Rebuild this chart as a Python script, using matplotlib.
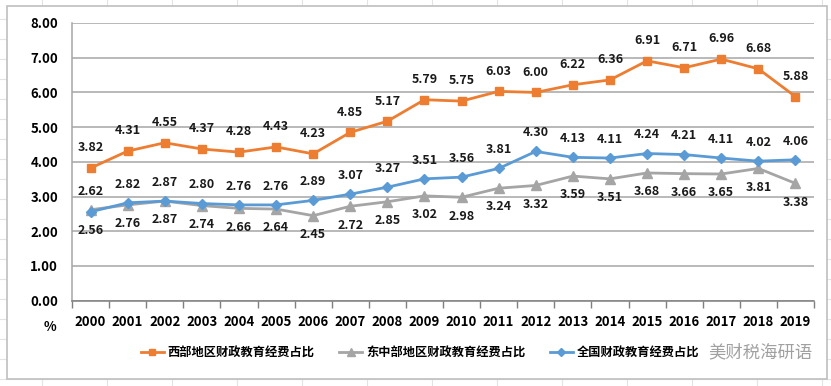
import matplotlib
matplotlib.use("Agg")
import matplotlib.pyplot as plt
from matplotlib.patches import Rectangle
from matplotlib.lines import Line2D
import numpy as np

years = ['2000', '2001', '2002', '2003', '2004', '2005', '2006', '2007', '2008', '2009',
         '2010', '2011', '2012', '2013', '2014', '2015', '2016', '2017', '2018', '2019']
west = [3.82, 4.31, 4.55, 4.37, 4.28, 4.43, 4.23, 4.85, 5.17, 5.79,
        5.75, 6.03, 6.00, 6.22, 6.36, 6.91, 6.71, 6.96, 6.68, 5.88]
east_central = [2.62, 2.76, 2.87, 2.74, 2.66, 2.64, 2.45, 2.72, 2.85, 3.02,
                2.98, 3.24, 3.32, 3.59, 3.51, 3.68, 3.66, 3.65, 3.81, 3.38]
national = [2.56, 2.82, 2.87, 2.80, 2.76, 2.76, 2.89, 3.07, 3.27, 3.51,
            3.56, 3.81, 4.30, 4.13, 4.11, 4.24, 4.21, 4.11, 4.02, 4.06]
series_names = ['西部地区财政教育经费占比', '东中部地区财政教育经费占比', '全国财政教育经费占比']
yticks = [0, 1, 2, 3, 4, 5, 6, 7, 8]
watermark = '美财税海研语'

font = 'Noto Sans CJK SC'
plt.rcParams['font.family'] = [font, 'DejaVu Sans']

W, H = 831, 386
fig = plt.figure(figsize=(W / 100, H / 100), dpi=100)
fig.patch.set_facecolor('white')

# spreadsheet grid behind chart
for xx in range(42, W, 65):
    fig.add_artist(Line2D([xx / W, xx / W], [0, 1], color='#E3E3E3', lw=0.8, zorder=0))
for yy in range(19, H, 20):
    fig.add_artist(Line2D([0, 1], [1 - yy / H, 1 - yy / H], color='#E3E3E3', lw=0.8, zorder=0))
# chart frame
fig.add_artist(Rectangle((7 / W, 1 - 379 / H), 820 / W, 373 / H, transform=fig.transFigure,
                         facecolor='white', edgecolor='#BFBFBF', lw=1.2, zorder=1))

ax = fig.add_axes([72 / W, 1 - 300.7 / H, 742 / W, 277.7 / H], zorder=2)
ax.set_facecolor('none')
x = np.arange(len(years))

c_or, c_gr, c_bl = '#ED7D31', '#A5A5A5', '#5B9BD5'
ax.plot(x, east_central, color=c_gr, lw=2.0, marker='^', ms=7, mec=c_gr, mfc=c_gr, zorder=3)
ax.plot(x, national, color=c_bl, lw=2.0, marker='D', ms=5, mec=c_bl, mfc=c_bl, zorder=4)
ax.plot(x, west, color=c_or, lw=2.0, marker='s', ms=6, mec=c_or, mfc=c_or, zorder=5)

lab_kw = dict(fontsize=9, fontweight='bold', color='#1a1a1a', ha='center', va='center', zorder=6)
for i in range(len(years)):
    ax.annotate(f'{west[i]:.2f}', (x[i], west[i]), xytext=(0, 14.5), textcoords='offset points', **lab_kw)
    hi = max(national[i], east_central[i])
    lo = min(national[i], east_central[i])
    ax.annotate(f'{hi:.2f}', (x[i], hi), xytext=(0, 13.5), textcoords='offset points', **lab_kw)
    ax.annotate(f'{lo:.2f}', (x[i], lo), xytext=(0, -13.5), textcoords='offset points', **lab_kw)

ax.set_xlim(-0.5, len(years) - 0.5)
ax.set_ylim(0, 8)
ax.set_yticks(yticks)
ax.set_yticklabels([f'{v:.2f}' for v in yticks])
ax.yaxis.grid(True, color='#A6A6A6', lw=1.1)
ax.set_axisbelow(True)
ax.tick_params(axis='y', length=0, pad=10, labelsize=9.5)
for t in ax.get_yticklabels():
    t.set_fontweight('bold')

ax.set_xticks(np.arange(-0.5, len(years), 1.0))
ax.set_xticklabels([])
ax.tick_params(axis='x', which='major', length=5, width=1, color='#7F7F7F', direction='out')
ax.set_xticks(x, minor=True)
ax.set_xticklabels(years, minor=True)
ax.tick_params(axis='x', which='minor', length=0, pad=10.5, labelsize=9.5)
for t in ax.get_xticklabels(minor=True):
    t.set_fontweight('bold')

for s in ['top', 'right']:
    ax.spines[s].set_visible(False)
ax.spines['left'].set_color('#A6A6A6')
ax.spines['bottom'].set_color('#7F7F7F')
ax.spines['left'].set_linewidth(1.1)
ax.spines['bottom'].set_linewidth(1.1)

fig.text(50 / W, 1 - 327 / H, '%', fontsize=9.5, fontweight='bold', ha='center', va='center', zorder=3)

handles = [Line2D([], [], color=c_or, lw=2.0, marker='s', ms=5),
           Line2D([], [], color=c_gr, lw=2.0, marker='^', ms=6),
           Line2D([], [], color=c_bl, lw=2.0, marker='D', ms=4)]
leg = fig.legend(handles, series_names, loc='center', bbox_to_anchor=(420 / W, 1 - 353 / H),
                 ncol=3, frameon=False, handlelength=1.9, handletextpad=0.3, columnspacing=2.0,
                 borderpad=0, prop={'family': font, 'weight': 'bold', 'size': 8.8})
leg.set_zorder(3)

fig.text(708 / W, 1 - 352 / H, watermark, fontsize=12.5, color='#A0A0A0',
         ha='left', va='center', zorder=4)

fig.savefig('out.png', dpi=100)
